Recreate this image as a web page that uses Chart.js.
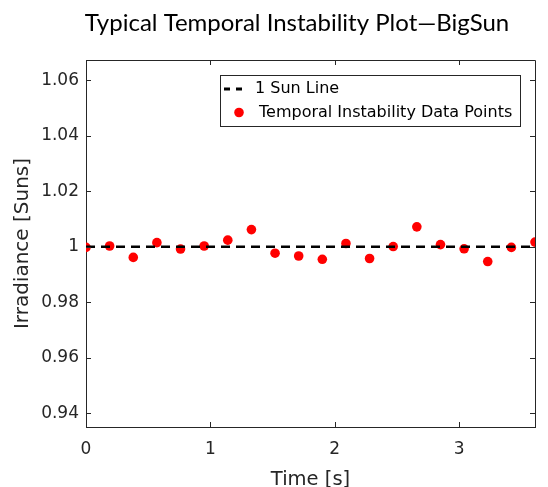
<!DOCTYPE html>
<html lang="en">
<head>
  <meta charset="UTF-8" />
  <title>Typical Temporal Instability Plot—BigSun</title>
  <script src="https://cdn.jsdelivr.net/npm/chart.js"></script>
  <style>
    html, body { margin: 0; padding: 0; background: #fff; }
    #wrap { width: 548px; height: 487px; }
  </style>
</head>
<body>
  <div id="wrap"><canvas id="grafico"></canvas></div>

  <script>
    // sample times (s) and measured irradiance (suns)
    const tempos = [0, 0.19, 0.38, 0.57, 0.76, 0.95, 1.14, 1.33, 1.52, 1.71,
                    1.90, 2.09, 2.28, 2.47, 2.66, 2.85, 3.04, 3.23, 3.42, 3.61];
    const irradiancia = [0.9998, 1.0003, 0.9962, 1.0015, 0.9992, 1.0003, 1.0024, 1.0062, 0.9977, 0.9967,
                         0.9955, 1.0012, 0.9958, 1.0001, 1.0072, 1.0008, 0.9993, 0.9947, 0.9998, 1.0017];
    const linhaSol = [1, 1];
    const xTicks = [0, 1, 2, 3];
    const yTicks = [0.94, 0.96, 0.98, 1, 1.02, 1.04, 1.06];

    const corTexto = '#262626';
    const fonte = '"DejaVu Sans", "Liberation Sans", Arial, sans-serif';

    // box on all four sides, inward tick marks, title and legend
    const moldura = {
      id: 'moldura',
      afterDraw(chart) {
        const c = chart.ctx;
        const a = chart.chartArea;
        const sx = chart.scales.x, sy = chart.scales.y;
        c.save();
        c.strokeStyle = corTexto;
        c.lineWidth = 1;
        c.beginPath();
        c.moveTo(a.left, a.top + 0.5);
        c.lineTo(a.right + 0.5, a.top + 0.5);
        c.lineTo(a.right + 0.5, a.bottom);
        c.stroke();
        const t = 5;
        c.beginPath();
        xTicks.forEach(v => {
          const px = Math.round(sx.getPixelForValue(v)) + 0.5;
          c.moveTo(px, a.bottom); c.lineTo(px, a.bottom - t);
          c.moveTo(px, a.top); c.lineTo(px, a.top + t);
        });
        yTicks.forEach(v => {
          const py = Math.round(sy.getPixelForValue(v)) + 0.5;
          c.moveTo(a.left, py); c.lineTo(a.left + t, py);
          c.moveTo(a.right, py); c.lineTo(a.right - t, py);
        });
        c.stroke();

        // title
        c.fillStyle = '#000';
        c.font = '24px Lato, "Open Sans", sans-serif';
        c.textAlign = 'center';
        c.textBaseline = 'alphabetic';
        c.fillText('Typical Temporal Instability Plot—BigSun', 297, 31);

        // legend
        const lx = 220, ly = 75, lw = 300, lh = 51;
        c.fillStyle = '#fff';
        c.fillRect(lx, ly, lw, lh);
        c.strokeStyle = '#262626';
        c.strokeRect(lx + 0.5, ly + 0.5, lw, lh);
        const ds = chart.data.datasets;
        c.strokeStyle = ds[0].borderColor;
        c.lineWidth = 3;
        c.setLineDash([6, 6]);
        c.beginPath();
        c.moveTo(224, 89); c.lineTo(248, 89);
        c.stroke();
        c.setLineDash([]);
        c.fillStyle = ds[1].backgroundColor;
        c.beginPath();
        c.arc(239, 112.5, ds[1].pointRadius, 0, Math.PI * 2);
        c.fill();
        c.fillStyle = '#000';
        c.font = '16px ' + fonte;
        c.textAlign = 'left';
        c.textBaseline = 'middle';
        c.fillText(ds[0].label, 255, 89);
        c.fillText(ds[1].label, 259, 113);
        c.restore();
      }
    };

    new Chart(document.getElementById('grafico'), {
      type: 'scatter',
      data: {
        datasets: [{
          type: 'line',
          label: '1 Sun Line',
          data: [{ x: tempos[0], y: linhaSol[0] }, { x: tempos[tempos.length - 1], y: linhaSol[1] }],
          borderColor: '#000',
          borderWidth: 2.5,
          borderDash: [9, 6],
          pointRadius: 0,
          fill: false
        }, {
          label: 'Temporal Instability Data Points',
          data: tempos.map((t, i) => ({ x: t, y: irradiancia[i] })),
          backgroundColor: '#ff0000',
          borderWidth: 0,
          pointRadius: 4.8
        }]
      },
      options: {
        responsive: true,
        maintainAspectRatio: false,
        animation: false,
        layout: { padding: { top: 60, right: 13, left: 0, bottom: 0 } },
        plugins: {
          legend: { display: false },
          tooltip: { enabled: false }
        },
        scales: {
          x: {
            type: 'linear',
            min: 0,
            max: 3.61,
            afterFit(s) { s.height = 60; },
            afterBuildTicks(s) { s.ticks = xTicks.map(v => ({ value: v })); },
            grid: { drawOnChartArea: false, drawTicks: false },
            border: { color: corTexto, width: 1 },
            ticks: {
              color: corTexto,
              padding: 12,
              callback: v => String(parseFloat(v.toFixed(2))),
              font: { family: fonte, size: 17 }
            },
            title: {
              display: true,
              text: 'Time [s]',
              color: corTexto,
              padding: { top: 0, bottom: 0 },
              font: { family: fonte, size: 19.5, lineHeight: 0.75 }
            }
          },
          y: {
            type: 'linear',
            min: 0.9351,
            max: 1.0673,
            afterFit(s) { s.width = 86; },
            afterBuildTicks(s) { s.ticks = yTicks.map(v => ({ value: v })); },
            grid: { drawOnChartArea: false, drawTicks: false },
            border: { color: corTexto, width: 1 },
            ticks: {
              color: corTexto,
              padding: 7,
              callback: v => String(parseFloat(v.toFixed(2))),
              font: { family: fonte, size: 17 }
            },
            title: {
              display: true,
              text: 'Irradiance [Suns]',
              color: corTexto,
              padding: { top: 11, bottom: 0 },
              font: { family: fonte, size: 20 }
            }
          }
        }
      },
      plugins: [moldura]
    });
  </script>
</body>
</html>
